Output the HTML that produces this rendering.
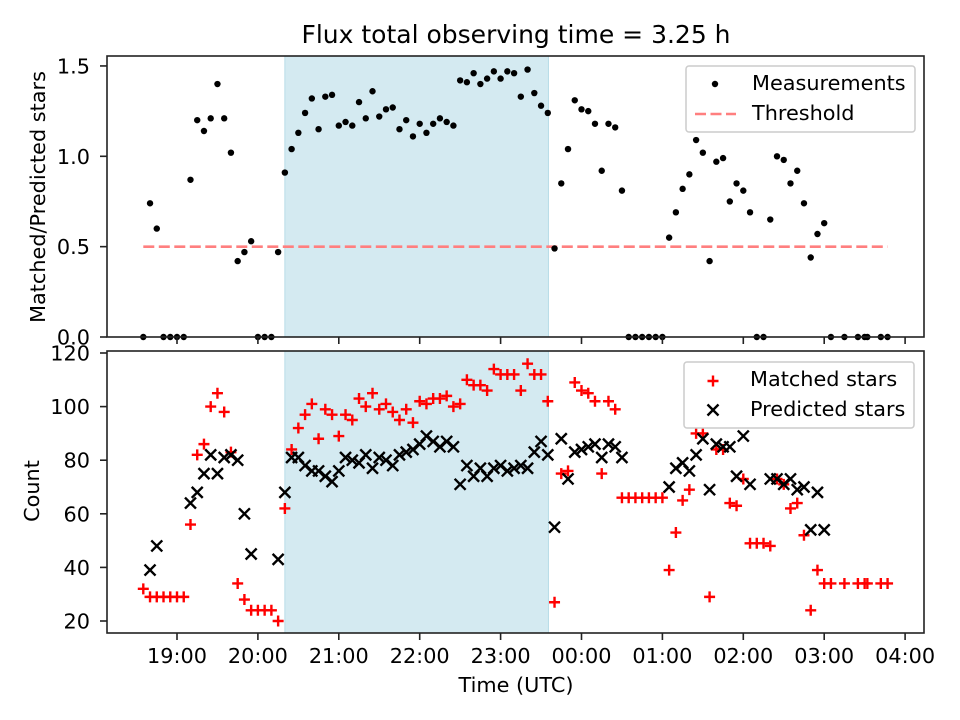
<!DOCTYPE html>
<html><head><meta charset="utf-8"><style>
html,body{margin:0;padding:0;background:#fff;}
svg{display:block;font-family:"DejaVu Sans","Liberation Sans",sans-serif;}
</style></head><body>
<svg id="fig" width="960" height="720" viewBox="0 0 960 720" xmlns="http://www.w3.org/2000/svg"></svg>
<script>
// Data: times in minutes since 19:00 UTC
const topTimes = [-25,-20,-15,-10,-5,0,5,10,15,20,25,30,35,40,45,50,55,60,65,70,75,80,85,90,95,100,105,110,115,120,125,130,135,140,145,150,155,160,165,170,175,180,185,190,195,200,205,210,215,220,225,230,235,240,245,250,255,260,265,270,275,280,285,290,295,300,305,310,315,320,325,330,335,340,345,350,355,360,365,370,375,380,385,390,395,400,405,410,415,420,425,430,435,440,445,450,455,460,465,470,475,480,485,495,505,510,512,522,527];
const ratioValues = [0,0.74,0.60,0,0,0,0,0.87,1.20,1.14,1.21,1.40,1.21,1.02,0.42,0.47,0.53,0,0,0,0.47,0.91,1.04,1.13,1.24,1.32,1.15,1.33,1.34,1.17,1.19,1.17,1.30,1.21,1.36,1.22,1.26,1.27,1.15,1.20,1.11,1.18,1.13,1.18,1.21,1.19,1.17,1.42,1.41,1.46,1.40,1.43,1.47,1.43,1.47,1.46,1.33,1.48,1.35,1.28,1.24,0.49,0.85,1.04,1.31,1.26,1.25,1.18,0.92,1.18,1.16,0.81,0,0,0,0,0,0,0.55,0.69,0.82,0.90,1.09,1.02,0.42,0.97,0.99,0.75,0.85,0.81,0.69,0,0,0.65,1.00,0.98,0.85,0.92,0.74,0.44,0.57,0.63,0,0,0,0,0,0,0];
const matchedTimes = [-25,-20,-15,-10,-5,0,5,10,15,20,25,30,35,40,45,50,55,60,65,70,75,80,85,90,95,100,105,110,115,120,125,130,135,140,145,150,155,160,165,170,175,180,185,190,195,200,205,210,215,220,225,230,235,240,245,250,255,260,265,270,275,280,285,290,295,300,305,310,315,320,325,330,335,340,345,350,355,360,365,370,375,380,385,390,395,400,405,410,415,420,425,430,435,440,445,450,455,460,465,470,475,480,485,495,505,510,512,522,527];
const matchedValues = [32,29,29,29,29,29,29,56,82,86,100,105,98,83,34,28,24,24,24,24,20,62,84,92,97,101,88,99,97,89,97,95,103,100,105,99,101,98,95,99,94,102,101,103,103,104,100,101,110,108,108,106,114,112,112,112,106,116,112,112,102,27,75,76,109,106,105,102,75,102,99,66,66,66,66,66,66,66,39,53,65,69,90,90,29,84,84,64,63,73,49,49,49,48,73,71,62,64,52,24,39,34,34,34,34,34,34,34,34];
const predictedTimes = [-20,-15,10,15,20,25,30,35,40,45,50,55,75,80,85,90,95,100,105,110,115,120,125,130,135,140,145,150,155,160,165,170,175,180,185,190,195,200,205,210,215,220,225,230,235,240,245,250,255,260,265,270,275,280,285,290,295,300,305,310,315,320,325,330,365,370,375,380,385,390,395,400,405,410,415,420,425,440,445,450,455,460,465,470,475,480];
const predictedValues = [39,48,64,68,75,82,75,81,82,80,60,45,43,68,81,81,78,76,76,74,72,76,81,80,79,82,77,81,80,78,82,83,84,86,89,87,85,87,85,71,78,74,77,74,77,78,76,77,78,77,83,87,82,55,88,73,83,84,85,86,81,86,85,81,70,77,79,76,82,88,69,86,85,85,74,89,71,73,73,71,73,69,70,54,68,54];
const xTickMinutes = [0,60,120,180,240,300,360,420,480,540];
const xTickLabels = ["19:00","20:00","21:00","22:00","23:00","00:00","01:00","02:00","03:00","04:00"];
const topYTicks = [0.0,0.5,1.0,1.5];
const topYTickLabels = ["0.0","0.5","1.0","1.5"];
const botYTicks = [20,40,60,80,100,120];
const threshold = [0.5];
const shadeSpan = [80, 275.5];

const NS = "http://www.w3.org/2000/svg";
const svg = document.getElementById('fig');
function mk(tag, attrs, parent){ const e=document.createElementNS(NS,tag); for(const k in attrs) e.setAttribute(k,attrs[k]); (parent||svg).appendChild(e); return e; }
const L=107, R=924;
const T1=56, B1=337, T2=351, B2=633;
const FS = 20.8;
const xS = m => 177 + m*80.9/60;
const y1 = v => 337 - v*180.7;
const y2 = v => 621 - (v-20)*2.68;

const title = mk('text',{x:516,y:43,'text-anchor':'middle','font-size':'25'});
title.textContent='Flux total observing time = 3.25 h';



function panel(top,bot,name){
  const g = mk('g',{});
  
  
  const sh = mk('rect',{x:xS(shadeSpan[0]),y:top,width:xS(shadeSpan[1])-xS(shadeSpan[0]),height:bot-top,fill:'#d4eaf1',stroke:'#b8dce8','stroke-width':1},g);
  
  
  return g;
}
const g1 = panel(T1,B1,'top-panel');
const g2 = panel(T2,B2,'bottom-panel');

const th = mk('line',{x1:xS(topTimes[0]),x2:xS(topTimes[topTimes.length-1]),y1:y1(threshold[0]),y2:y1(threshold[0]),stroke:'#ff7f7f','stroke-width':2.6,'stroke-dasharray':'11 4.5'},g1);



topTimes.forEach((t,i)=>{
  const c = mk('circle',{cx:xS(t),cy:y1(ratioValues[i]),r:3.2,fill:'#000'},g1);
  
  
});
matchedTimes.forEach((t,i)=>{
  const x=xS(t), y=y2(matchedValues[i]);
  const p = mk('path',{d:`M${x-5.5} ${y}H${x+5.5}M${x} ${y-5.5}V${y+5.5}`,stroke:'#f00','stroke-width':2.4},g2);
  
  
});
predictedTimes.forEach((t,i)=>{
  const x=xS(t), y=y2(predictedValues[i]);
  const p = mk('path',{d:`M${x-5.5} ${y-5.5}L${x+5.5} ${y+5.5}M${x-5.5} ${y+5.5}L${x+5.5} ${y-5.5}`,stroke:'#000','stroke-width':2.4},g2);
  
  
});

[[T1,B1,'top-axes-frame'],[T2,B2,'bottom-axes-frame']].forEach(([t,b,n])=>{
  const r = mk('rect',{x:L,y:t,width:R-L,height:b-t,fill:'none',stroke:'#222','stroke-width':1.6});
  
  
});

xTickMinutes.forEach((m,i)=>{
  const x=xS(m);
  const a = mk('line',{x1:x,x2:x,y1:B1,y2:B1+7,stroke:'#222','stroke-width':1.6});
  
  
  const b = mk('line',{x1:x,x2:x,y1:B2,y2:B2+7,stroke:'#222','stroke-width':1.6});
  
  
  const tx = mk('text',{x:x,y:663,'text-anchor':'middle','font-size':FS});
  tx.textContent = xTickLabels[i];
  
  
});
topYTicks.forEach((v,i)=>{
  const y=y1(v);
  const a = mk('line',{x1:L-7,x2:L,y1:y,y2:y,stroke:'#222','stroke-width':1.6});
  
  
  const tx = mk('text',{x:L-17,y:y+7.5,'text-anchor':'end','font-size':FS});
  tx.textContent = topYTickLabels[i];
  
  
});
botYTicks.forEach(v=>{
  const y=y2(v);
  const a = mk('line',{x1:L-7,x2:L,y1:y,y2:y,stroke:'#222','stroke-width':1.6});
  
  
  const tx = mk('text',{x:L-17,y:y+7.5,'text-anchor':'end','font-size':FS});
  tx.textContent = String(v);
  
  
});

const yl1 = mk('text',{x:0,y:0,'text-anchor':'middle','font-size':FS,transform:'translate(45,197) rotate(-90)'});
yl1.textContent='Matched/Predicted stars';


const yl2 = mk('text',{x:0,y:0,'text-anchor':'middle','font-size':FS,transform:'translate(39,491) rotate(-90)'});
yl2.textContent='Count';


const xl = mk('text',{x:516,y:692,'text-anchor':'middle','font-size':FS});
xl.textContent='Time (UTC)';



function legend(x,y,w,h,name){
  const g = mk('g',{});
  
  
  mk('rect',{x:x,y:y,width:w,height:h,rx:3,fill:'#fff','fill-opacity':0.85,stroke:'#cccccc','stroke-width':1.5},g);
  return g;
}
const lg1 = legend(686,66,229,66,'top-legend');
mk('circle',{cx:715,cy:84,r:3.2,fill:'#000'},lg1);
const lt1 = mk('text',{x:752,y:90,'font-size':FS},lg1);
lt1.textContent='Measurements';


mk('line',{x1:695,x2:736,y1:114,y2:114,stroke:'#ff7f7f','stroke-width':2.6,'stroke-dasharray':'11 4.5'},lg1);
const lt2 = mk('text',{x:752,y:120,'font-size':FS},lg1);
lt2.textContent='Threshold';



const lg2 = legend(684,362,230,66,'bottom-legend');
mk('path',{d:'M707.5 381H718.5M713 375.5V386.5',stroke:'#f00','stroke-width':2.4},lg2);
const lt3 = mk('text',{x:750,y:386,'font-size':FS},lg2);
lt3.textContent='Matched stars';


mk('path',{d:'M707.5 404.5L718.5 415.5M707.5 415.5L718.5 404.5',stroke:'#000','stroke-width':2.4},lg2);
const lt4 = mk('text',{x:750,y:416,'font-size':FS},lg2);
lt4.textContent='Predicted stars';


</script>
</body></html>
